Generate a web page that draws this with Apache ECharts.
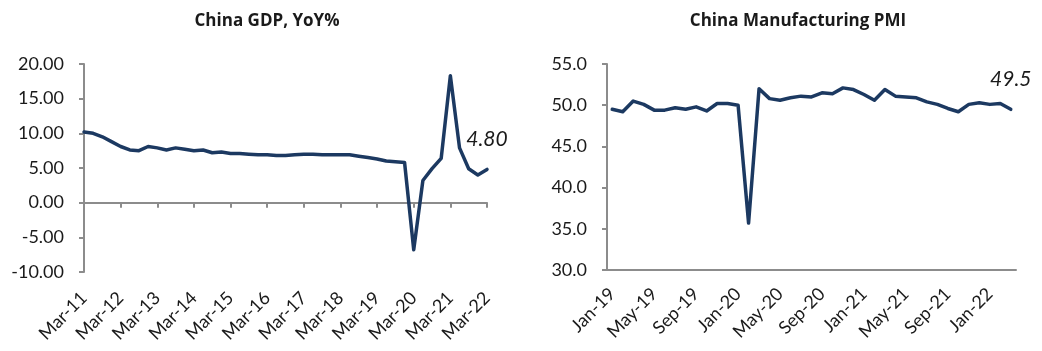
<!DOCTYPE html>
<html>
<head>
<meta charset="utf-8">
<script src="https://cdn.jsdelivr.net/npm/echarts@6/dist/echarts.min.js"></script>
<style>
  html, body { margin: 0; padding: 0; background: #fff; }
  #chart { width: 1042px; height: 351px; }
</style>
</head>
<body>
<div id="chart"></div>
<script>
// quarterly GDP, Mar-11 .. Mar-22
var gdpQuarters = [];
(function () {
    var months = ['Mar', 'Jun', 'Sep', 'Dec'];
    for (var y = 11; y <= 22; y++) {
        for (var q = 0; q < 4; q++) {
            if (y === 22 && q > 0) break;
            gdpQuarters.push(months[q] + '-' + y);
        }
    }
})();
var gdpValues = [
    10.2, 10.0, 9.5, 8.8,
    8.1, 7.6, 7.5, 8.1,
    7.9, 7.6, 7.9, 7.7,
    7.5, 7.6, 7.2, 7.3,
    7.1, 7.1, 7.0, 6.9,
    6.9, 6.8, 6.8, 6.9,
    7.0, 7.0, 6.9, 6.9,
    6.9, 6.9, 6.7, 6.5,
    6.3, 6.0, 5.9, 5.8,
    -6.8, 3.2, 4.9, 6.4,
    18.3, 7.9, 4.9, 4.0,
    4.8
];

// monthly PMI, Jan-19 .. Mar-22
var pmiMonths = [];
(function () {
    var m = ['Jan', 'Feb', 'Mar', 'Apr', 'May', 'Jun', 'Jul', 'Aug', 'Sep', 'Oct', 'Nov', 'Dec'];
    for (var y = 19; y <= 22; y++) {
        for (var i = 0; i < 12; i++) {
            if (y === 22 && i > 2) break;
            pmiMonths.push(m[i] + '-' + y);
        }
    }
})();
var pmiValues = [
    49.5, 49.2, 50.5, 50.1, 49.4, 49.4, 49.7, 49.5, 49.8, 49.3, 50.2, 50.2,
    50.0, 35.7, 52.0, 50.8, 50.6, 50.9, 51.1, 51.0, 51.5, 51.4, 52.1, 51.9,
    51.3, 50.6, 51.9, 51.1, 51.0, 50.9, 50.4, 50.1, 49.6, 49.2, 50.1, 50.3,
    50.1, 50.2, 49.5
];

var gdpTicks = [-10, 20, 5];
var pmiTicks = [30, 55, 5];

var lineColor = '#1c3961';
var axisGrey = '#8c8c8c';
var textColor = '#1a1a1a';
var fontFam = 'Lato, "Open Sans", sans-serif';

// only the last point carries a label
function lastLabel(values, fmt) {
    return values.map(function (v, i) {
        if (i !== values.length - 1) return v;
        return {
            value: v,
            label: {
                show: true, position: 'top', distance: 20,
                formatter: fmt, fontStyle: 'italic',
                fontSize: 21, color: textColor, fontFamily: fontFam
            }
        };
    });
}

var myChart = echarts.init(document.getElementById('chart'));
var option = {
    animation: false,
    title: [
        { text: 'China GDP, YoY%', left: 262, top: 8, textAlign: 'center',
          textStyle: { fontSize: 17, fontWeight: 'bold', color: textColor, fontFamily: '"Open Sans", sans-serif' } },
        { text: 'China Manufacturing PMI', left: 793, top: 8, textAlign: 'center',
          textStyle: { fontSize: 17, fontWeight: 'bold', color: textColor, fontFamily: '"Open Sans", sans-serif' } }
    ],
    grid: [
        { left: 84, top: 64, width: 403, height: 208 },
        { left: 607, top: 64, width: 409, height: 206 }
    ],
    xAxis: [
        {   // zero line with ticks
            type: 'category', gridIndex: 0, data: gdpQuarters, boundaryGap: false,
            axisLine: { onZero: true, lineStyle: { color: axisGrey, width: 2 } },
            axisTick: { interval: 3, length: 5, lineStyle: { color: axisGrey, width: 2 } },
            axisLabel: { show: false }
        },
        {   // labels at bottom
            type: 'category', gridIndex: 0, data: gdpQuarters, boundaryGap: false,
            position: 'bottom',
            axisLine: { show: false, onZero: false },
            axisTick: { show: false },
            axisLabel: { interval: 3, rotate: 45, fontSize: 18, color: textColor,
                         fontFamily: fontFam, margin: 23 }
        },
        {
            type: 'category', gridIndex: 1, data: pmiMonths, boundaryGap: true,
            axisLine: { lineStyle: { color: axisGrey, width: 2 } },
            axisTick: { interval: 3, length: 5, lineStyle: { color: axisGrey, width: 2 } },
            axisLabel: { interval: 3, rotate: 45, fontSize: 18, color: textColor,
                         fontFamily: fontFam, margin: 21 }
        }
    ],
    yAxis: [
        {
            type: 'value', gridIndex: 0, min: gdpTicks[0], max: gdpTicks[1], interval: gdpTicks[2],
            axisLine: { show: true, lineStyle: { color: axisGrey, width: 2 } },
            axisTick: { show: true, length: 5, lineStyle: { color: axisGrey, width: 2 } },
            splitLine: { show: false },
            axisLabel: { formatter: function (v) { return v.toFixed(2); },
                         fontSize: 18, color: textColor, fontFamily: fontFam, margin: 20 }
        },
        {
            type: 'value', gridIndex: 1, min: pmiTicks[0], max: pmiTicks[1], interval: pmiTicks[2],
            axisLine: { show: true, lineStyle: { color: axisGrey, width: 2 } },
            axisTick: { show: true, length: 5, lineStyle: { color: axisGrey, width: 2 } },
            splitLine: { show: false },
            axisLabel: { formatter: function (v) { return v.toFixed(1); },
                         fontSize: 18, color: textColor, fontFamily: fontFam, margin: 20 }
        }
    ],
    series: [
        {
            type: 'line', xAxisIndex: 0, yAxisIndex: 0,
            data: lastLabel(gdpValues, function (p) { return p.value.toFixed(2); }),
            symbol: 'circle', symbolSize: 0, showSymbol: true,
            lineStyle: { color: lineColor, width: 3.5, cap: 'round', join: 'round' },
            itemStyle: { color: lineColor }
        },
        {
            type: 'line', xAxisIndex: 2, yAxisIndex: 1,
            data: lastLabel(pmiValues, function (p) { return p.value.toFixed(1); }),
            symbol: 'circle', symbolSize: 0, showSymbol: true,
            lineStyle: { color: lineColor, width: 3.5, cap: 'round', join: 'round' },
            itemStyle: { color: lineColor }
        }
    ]
};
myChart.setOption(option);
</script>
</body>
</html>
